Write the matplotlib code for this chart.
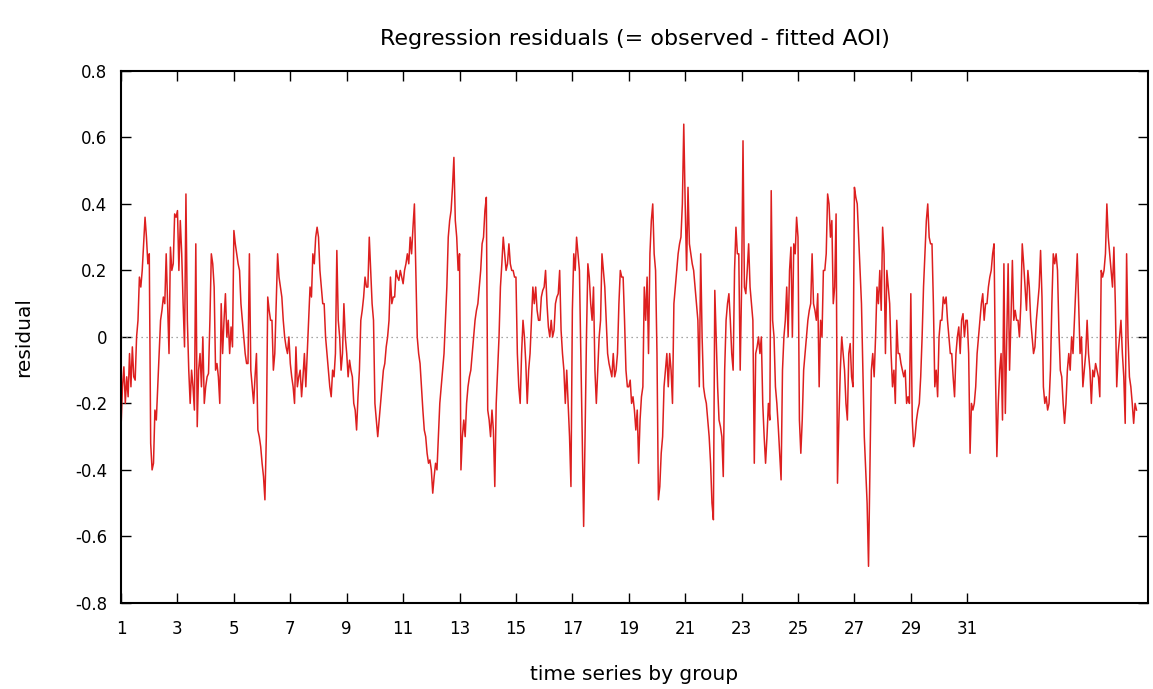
import numpy as np
import matplotlib
matplotlib.use("Agg")
import matplotlib.pyplot as plt

# residuals read off the chart, 20 observations per unit on the x axis (x = 1 .. 37),
# one row per unit
residual = [
    -0.27, -0.15, -0.09, -0.20, -0.12, -0.18, -0.05, -0.15, -0.03, -0.12, -0.13, 0.00, 0.05, 0.18, 0.15, 0.20, 0.28, 0.36, 0.30, 0.22,
    0.25, -0.32, -0.40, -0.38, -0.22, -0.25, -0.15, -0.05, 0.05, 0.08, 0.12, 0.10, 0.25, 0.10, -0.05, 0.27, 0.20, 0.22, 0.37, 0.36,
    0.38, 0.20, 0.35, 0.25, 0.10, -0.03, 0.43, 0.05, -0.10, -0.20, -0.10, -0.15, -0.22, 0.28, -0.27, -0.10, -0.05, -0.15, 0.00, -0.20,
    -0.15, -0.12, -0.11, 0.05, 0.25, 0.22, 0.15, -0.10, -0.08, -0.12, -0.20, 0.10, -0.05, 0.05, 0.13, 0.00, 0.05, -0.05, 0.03, -0.03,
    0.32, 0.28, 0.25, 0.22, 0.20, 0.10, 0.05, 0.00, -0.05, -0.08, -0.08, 0.25, -0.10, -0.15, -0.20, -0.12, -0.05, -0.28, -0.30, -0.33,
    -0.38, -0.42, -0.49, -0.30, 0.12, 0.08, 0.05, 0.05, -0.10, -0.05, 0.10, 0.25, 0.18, 0.15, 0.12, 0.05, 0.00, -0.03, -0.05, 0.00,
    -0.08, -0.12, -0.15, -0.20, -0.03, -0.15, -0.12, -0.10, -0.18, -0.12, -0.05, -0.15, -0.05, 0.05, 0.15, 0.12, 0.25, 0.22, 0.30, 0.33,
    0.30, 0.20, 0.15, 0.10, 0.10, 0.00, -0.05, -0.10, -0.15, -0.18, -0.10, -0.12, -0.05, 0.26, 0.05, 0.00, -0.10, -0.05, 0.10, 0.00,
    -0.05, -0.12, -0.07, -0.10, -0.12, -0.20, -0.22, -0.28, -0.18, -0.10, 0.05, 0.08, 0.12, 0.18, 0.15, 0.15, 0.30, 0.20, 0.10, 0.05,
    -0.20, -0.25, -0.30, -0.25, -0.20, -0.15, -0.10, -0.08, -0.03, 0.00, 0.05, 0.18, 0.10, 0.12, 0.12, 0.20, 0.18, 0.17, 0.20, 0.18,
    0.16, 0.20, 0.22, 0.25, 0.22, 0.30, 0.25, 0.33, 0.40, 0.20, 0.00, -0.05, -0.08, -0.15, -0.22, -0.28, -0.30, -0.35, -0.38, -0.37,
    -0.40, -0.47, -0.42, -0.38, -0.40, -0.30, -0.20, -0.15, -0.10, -0.05, 0.05, 0.15, 0.30, 0.35, 0.38, 0.45, 0.54, 0.35, 0.30, 0.20,
    0.25, -0.40, -0.30, -0.25, -0.30, -0.20, -0.15, -0.12, -0.10, -0.05, 0.00, 0.05, 0.08, 0.10, 0.15, 0.20, 0.28, 0.30, 0.38, 0.42,
    -0.22, -0.25, -0.30, -0.22, -0.28, -0.45, -0.20, -0.10, 0.00, 0.15, 0.22, 0.30, 0.25, 0.20, 0.22, 0.28, 0.22, 0.20, 0.20, 0.18,
    0.18, -0.05, -0.15, -0.20, -0.05, 0.05, 0.00, -0.08, -0.20, -0.10, -0.05, 0.05, 0.15, 0.10, 0.15, 0.08, 0.05, 0.05, 0.12, 0.14,
    0.15, 0.20, 0.10, 0.03, 0.00, 0.05, 0.00, 0.02, 0.10, 0.12, 0.13, 0.20, 0.02, -0.05, -0.10, -0.20, -0.10, -0.20, -0.30, -0.45,
    0.08, 0.25, 0.20, 0.30, 0.25, 0.20, -0.05, -0.30, -0.57, -0.30, 0.00, 0.22, 0.18, 0.10, 0.05, 0.15, -0.10, -0.20, -0.10, 0.00,
    0.05, 0.25, 0.20, 0.15, 0.05, -0.05, -0.08, -0.10, -0.12, -0.05, -0.12, -0.10, -0.05, 0.10, 0.20, 0.18, 0.18, 0.05, -0.10, -0.15,
    -0.15, -0.13, -0.20, -0.18, -0.22, -0.28, -0.22, -0.38, -0.25, -0.18, -0.15, 0.15, 0.05, 0.18, -0.05, 0.25, 0.35, 0.40, 0.25, 0.20,
    -0.05, -0.49, -0.45, -0.35, -0.30, -0.15, -0.10, -0.05, -0.15, -0.05, -0.10, -0.20, 0.10, 0.15, 0.20, 0.25, 0.28, 0.30, 0.40, 0.64,
    0.40, 0.20, 0.45, 0.28, 0.25, 0.22, 0.20, 0.15, 0.10, 0.05, -0.15, 0.25, 0.00, -0.15, -0.18, -0.20, -0.25, -0.30, -0.38, -0.50,
    -0.55, 0.14, 0.00, -0.15, -0.25, -0.27, -0.30, -0.42, -0.10, 0.05, 0.10, 0.13, 0.05, -0.05, -0.10, 0.20, 0.33, 0.25, 0.25, -0.10,
    0.15, 0.59, 0.15, 0.13, 0.20, 0.28, 0.15, 0.10, 0.05, -0.38, -0.05, -0.03, 0.00, -0.05, 0.00, -0.20, -0.30, -0.38, -0.30, -0.20,
    -0.25, 0.44, 0.05, 0.00, -0.15, -0.20, -0.27, -0.35, -0.43, -0.10, 0.00, 0.05, 0.15, 0.00, 0.20, 0.27, 0.00, 0.28, 0.25, 0.36,
    0.30, -0.25, -0.35, -0.25, -0.10, -0.05, 0.00, 0.05, 0.08, 0.10, 0.25, 0.10, 0.08, 0.05, 0.13, -0.15, 0.05, 0.00, 0.20, 0.20,
    0.25, 0.43, 0.40, 0.30, 0.35, 0.10, 0.15, 0.37, -0.44, -0.25, -0.10, 0.00, -0.05, -0.10, -0.20, -0.25, -0.05, -0.02, -0.12, -0.15,
    0.45, 0.42, 0.40, 0.30, 0.20, 0.10, -0.10, -0.30, -0.40, -0.50, -0.69, -0.40, -0.10, -0.05, -0.12, 0.00, 0.15, 0.10, 0.20, 0.08,
    0.33, 0.25, -0.05, 0.20, 0.15, 0.10, -0.05, -0.15, -0.10, -0.20, 0.05, -0.05, -0.05, -0.08, -0.10, -0.12, -0.10, -0.20, -0.18, -0.20,
    0.13, -0.25, -0.33, -0.30, -0.25, -0.22, -0.20, -0.12, 0.00, 0.15, 0.25, 0.35, 0.40, 0.30, 0.28, 0.28, 0.10, -0.15, -0.10, -0.18,
    0.00, 0.05, 0.05, 0.12, 0.10, 0.12, 0.05, 0.00, -0.05, -0.05, -0.12, -0.18, -0.05, 0.00, 0.03, -0.05, 0.05, 0.07, 0.00, 0.05,
    0.05, -0.05, -0.35, -0.20, -0.22, -0.20, -0.15, -0.05, 0.00, 0.05, 0.10, 0.13, 0.05, 0.10, 0.10, 0.15, 0.18, 0.20, 0.25, 0.28,
    -0.10, -0.36, -0.20, -0.10, -0.05, -0.25, 0.22, -0.23, 0.00, 0.22, -0.10, 0.05, 0.23, 0.05, 0.08, 0.05, 0.05, 0.00, 0.10, 0.28,
    0.22, 0.15, 0.08, 0.20, 0.15, 0.05, 0.00, -0.05, -0.03, 0.05, 0.10, 0.15, 0.26, 0.12, -0.15, -0.20, -0.18, -0.22, -0.20, -0.10,
    0.10, 0.25, 0.22, 0.25, 0.20, 0.02, -0.10, -0.12, -0.20, -0.26, -0.20, -0.10, -0.05, -0.10, 0.00, -0.05, 0.05, 0.15, 0.25, 0.10,
    -0.05, 0.00, -0.15, -0.10, -0.05, 0.05, -0.05, -0.10, -0.20, -0.10, -0.12, -0.08, -0.10, -0.12, -0.18, 0.20, 0.18, 0.20, 0.25, 0.40,
    0.30, 0.25, 0.20, 0.15, 0.27, 0.10, -0.15, -0.05, 0.00, 0.05, -0.05, -0.12, -0.26, 0.25, 0.00, -0.12, -0.15, -0.20, -0.26, -0.20,
    -0.22,
]
obs_per_unit = 20
x_ticks = list(range(1, 32, 2))
x_labels = [str(t) for t in x_ticks]
y_ticks = [-0.8, -0.6, -0.4, -0.2, 0.0, 0.2, 0.4, 0.6, 0.8]
y_labels = ["-0.8", "-0.6", "-0.4", "-0.2", "0", "0.2", "0.4", "0.6", "0.8"]

plt.rcParams["font.family"] = ["DejaVu Sans"]
plt.rcParams["axes.unicode_minus"] = False

x = 1 + np.arange(len(residual)) / obs_per_unit

fig = plt.figure(figsize=(11.53, 6.89), dpi=100)
ax = fig.add_axes([0.105, 0.125, 0.8907, 0.772])

ax.axhline(0, color="#888888", linestyle=(0, (1, 3)), linewidth=0.9)
ax.plot(x, residual, color="#dd1f1f", linewidth=1.1)

ax.set_xlim(1, 37.41)
ax.set_ylim(-0.8, 0.8)
ax.set_xticks(x_ticks)
ax.set_xticklabels(x_labels)
ax.set_yticks(y_ticks)
ax.set_yticklabels(y_labels)

ax.tick_params(direction="in", length=7, width=1, top=True, right=True,
               labelsize=12)
ax.tick_params(axis="x", pad=12)
ax.tick_params(axis="y", pad=10)
for s in ax.spines.values():
    s.set_linewidth(1.5)

ax.set_title("Regression residuals (= observed - fitted AOI)", fontsize=16, pad=19)
ax.set_xlabel("time series by group", fontsize=14.5, labelpad=20)
ax.set_ylabel("residual", fontsize=14.5, labelpad=30)

fig.savefig("out.png", dpi=100)
